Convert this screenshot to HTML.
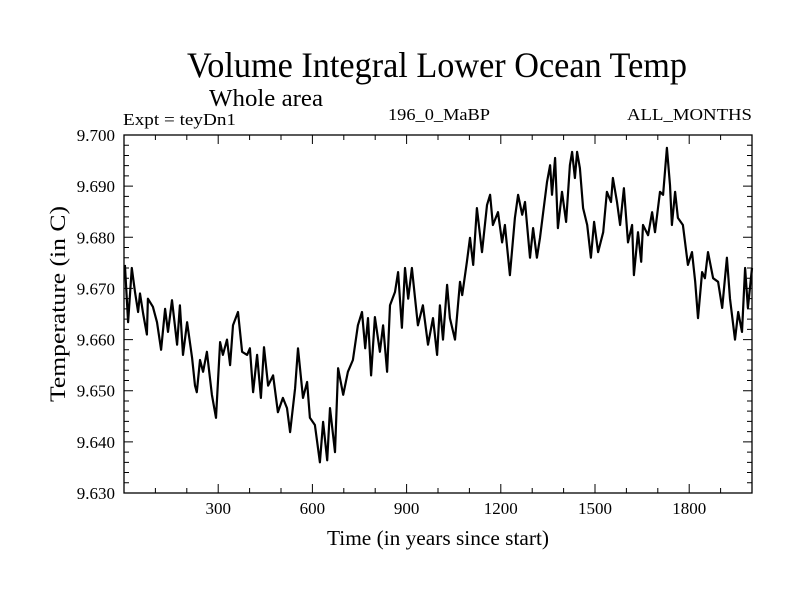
<!DOCTYPE html>
<html><head><meta charset="utf-8"><style>
html,body{margin:0;padding:0;background:#fff;}
svg{display:block;font-family:"Liberation Serif",serif;}
</style></head><body>
<svg id="chart" width="800" height="600" viewBox="0 0 800 600">
<text x="187" y="77" font-size="36" textLength="500" lengthAdjust="spacingAndGlyphs">Volume Integral Lower Ocean Temp</text>
<text x="209" y="106" font-size="24" textLength="114" lengthAdjust="spacingAndGlyphs">Whole area</text>
<text x="123" y="125" font-size="17" textLength="113" lengthAdjust="spacingAndGlyphs">Expt = teyDn1</text>
<text x="388" y="120" font-size="17" textLength="102" lengthAdjust="spacingAndGlyphs">196_0_MaBP</text>
<text x="627" y="120" font-size="17" textLength="125" lengthAdjust="spacingAndGlyphs">ALL_MONTHS</text>
<text x="327" y="545" font-size="21" textLength="222" lengthAdjust="spacingAndGlyphs">Time (in years since start)</text>
<text transform="translate(65,402) rotate(-90)" font-size="22" textLength="196" lengthAdjust="spacingAndGlyphs">Temperature (in C)</text>
<g id="axes"></g>
<g id="series"></g>
</svg>
<script>
const years=[3,13,25,35,45,51,61,73,76,92,105,118,131,140,153,169,178,188,201,217,226,232,242,252,264,280,293,306,315,328,338,347,363,376,392,401,411,424,436,446,459,475,490,506,519,529,545,554,570,583,592,608,624,634,647,656,672,682,698,713,729,745,758,768,777,787,799,815,825,838,847,863,873,885,895,905,917,927,936,952,968,984,997,1006,1016,1029,1038,1054,1070,1077,1092,1102,1112,1124,1140,1156,1166,1175,1191,1204,1213,1229,1245,1255,1268,1277,1293,1303,1315,1325,1335,1347,1357,1363,1373,1382,1395,1408,1420,1427,1436,1443,1452,1462,1475,1487,1497,1510,1526,1538,1551,1557,1570,1580,1592,1605,1618,1624,1637,1647,1653,1669,1682,1691,1707,1717,1729,1739,1745,1755,1764,1780,1796,1809,1819,1828,1841,1850,1860,1876,1892,1905,1920,1930,1946,1956,1968,1978,1987,2000];
const temps=[9.6746,9.6634,9.674,9.6693,9.6654,9.669,9.665,9.661,9.668,9.6664,9.6634,9.658,9.666,9.6615,9.6677,9.659,9.6667,9.657,9.6634,9.6564,9.651,9.6497,9.656,9.6537,9.6576,9.6492,9.6447,9.6595,9.657,9.660,9.655,9.6628,9.6654,9.6576,9.657,9.6583,9.6497,9.657,9.6486,9.6585,9.651,9.653,9.6458,9.6486,9.6466,9.6419,9.6505,9.6583,9.6486,9.6517,9.6447,9.6433,9.636,9.6439,9.6364,9.6466,9.638,9.6544,9.6492,9.6537,9.656,9.6628,9.6654,9.6583,9.6642,9.653,9.6644,9.6576,9.6628,9.6537,9.6667,9.6693,9.6732,9.6623,9.674,9.668,9.674,9.668,9.6628,9.6667,9.659,9.6642,9.657,9.6667,9.660,9.6707,9.6642,9.660,9.6713,9.6687,9.6752,9.6799,9.6746,9.6857,9.6771,9.6863,9.6883,9.6824,9.6849,9.679,9.6824,9.6726,9.6838,9.6883,9.6844,9.6869,9.676,9.6818,9.676,9.6799,9.6849,9.6908,9.6941,9.6883,9.6955,9.6818,9.6889,9.683,9.6941,9.6967,9.6916,9.6967,9.6935,9.6857,9.6824,9.676,9.683,9.6771,9.681,9.6889,9.6869,9.6916,9.6869,9.6824,9.6896,9.679,9.6824,9.6726,9.681,9.6752,9.6824,9.6804,9.6849,9.681,9.6889,9.6883,9.6975,9.6902,9.6824,9.6889,9.6838,9.6824,9.6746,9.6771,9.6713,9.6642,9.6732,9.672,9.6771,9.672,9.6713,9.6662,9.676,9.668,9.660,9.6654,9.6615,9.674,9.6662,9.674];
const yTickLabels=["9.630","9.640","9.650","9.660","9.670","9.680","9.690","9.700"];
const xTickLabels=["300","600","900","1200","1500","1800"];
const X0=124,X1=752,Y0=135,Y1=493,XMIN=0,XMAX=2000,YMIN=9.630,YMAX=9.700;
const sx=v=>X0+(v-XMIN)/(XMAX-XMIN)*(X1-X0);
const sy=v=>Y1-(v-YMIN)/(YMAX-YMIN)*(Y1-Y0);
const NS="http://www.w3.org/2000/svg";
const axes=document.getElementById('axes');
function mk(tag,attrs,parent){const e=document.createElementNS(NS,tag);for(const k in attrs)e.setAttribute(k,attrs[k]);parent.appendChild(e);return e;}
const frame=mk('rect',{x:X0,y:Y0,width:X1-X0,height:Y1-Y0,fill:'none',stroke:'#000','stroke-width':1.3},axes);


let p='';
for(let i=0;i<=35;i++){const v=YMIN+i*0.002;const y=sy(v);const L=(i%5===0)?9:5;p+=`M${X0},${y}h${L}M${X1},${y}h${-L}`;}
for(let yr=100;yr<XMAX;yr+=100){const x=sx(yr);const L=(yr%300===0)?9:5;p+=`M${x},${Y1}v${-L}M${x},${Y0}v${L}`;}
const ticks=mk('path',{d:p,stroke:'#000','stroke-width':1,fill:'none'},axes);


yTickLabels.forEach((t,i)=>{const e=mk('text',{x:115,y:sy(parseFloat(t))+6,'font-size':17,'text-anchor':'end'},axes);e.textContent=t;

});
xTickLabels.forEach(t=>{const e=mk('text',{x:sx(parseFloat(t)),y:514,'font-size':17,'text-anchor':'middle'},axes);e.textContent=t;

});
const d=years.map((yr,i)=>(i?'L':'M')+sx(yr).toFixed(1)+','+sy(temps[i]).toFixed(1)).join('');
const line=mk('path',{d:d,stroke:'#000','stroke-width':2.2,fill:'none','stroke-linejoin':'round'},document.getElementById('series'));


</script>
</body></html>
